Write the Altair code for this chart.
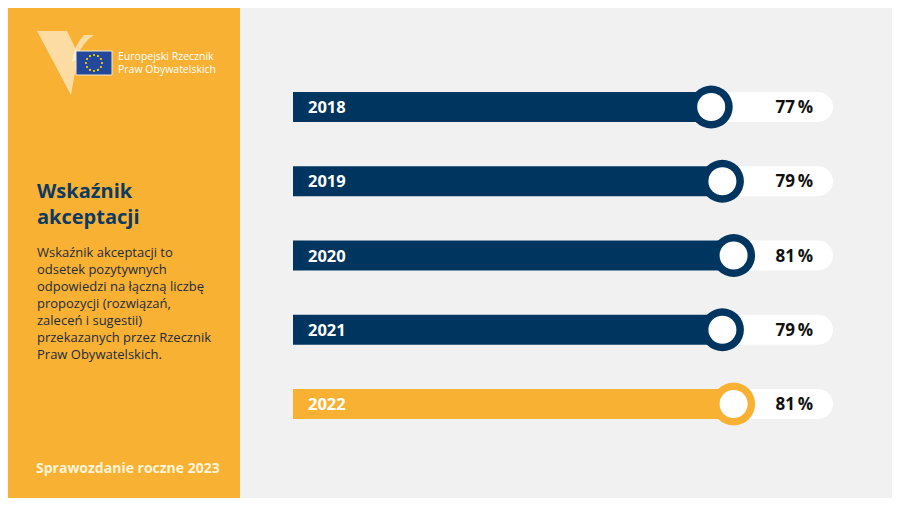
import altair as alt
import pandas as pd

# ---- data ----
years = ["2018", "2019", "2020", "2021", "2022"]
values = [77, 79, 81, 79, 81]
groups = ["past", "past", "past", "past", "current"]

title_lines = ["Wskaźnik", "akceptacji"]
desc_lines = [
    "Wskaźnik akceptacji to",
    "odsetek pozytywnych",
    "odpowiedzi na łączną liczbę",
    "propozycji (rozwiązań,",
    "zaleceń i sugestii)",
    "przekazanych przez Rzecznik",
    "Praw Obywatelskich.",
]
logo_lines = ["Europejski Rzecznik", "Praw Obywatelskich"]
footer_text = ["Sprawozdanie roczne 2023"]

# ---- style ----
NAVY = "#00355F"
ORANGE = "#F8B133"
BG = "#F1F1F1"
FONT = "Open Sans"

df = pd.DataFrame({"year": years, "value": values, "grp": groups})
df["label"] = [f"{v}\u2009%" for v in values]

xs = alt.Scale(domain=[0, 100], range=[272, 832])
ys = alt.Scale(type="point", domain=years, range=[99, 396], padding=0)
X = alt.X("value:Q", scale=xs, axis=None)
Y = alt.Y("year:N", scale=ys, axis=None)
COL = alt.Color("grp:N", scale=alt.Scale(domain=["past", "current"], range=[NAVY, ORANGE]), legend=None)

base = alt.Chart(df)

track = base.mark_rule(strokeWidth=30, strokeCap="round", color="white").encode(
    y=Y, x=alt.value(300), x2=alt.value(810)
)
bar = base.mark_rule(strokeWidth=30, strokeCap="butt").encode(
    y=Y, x=X, x2=alt.value(285), color=COL
)
outer = base.mark_point(filled=True, size=1849, opacity=1, shape="circle").encode(
    x=X, y=Y, color=COL
)
inner = base.mark_point(filled=True, size=784, opacity=1, shape="circle", color="white").encode(
    x=X, y=Y
)
year_txt = base.mark_text(align="left", baseline="middle", font=FONT, fontSize=16.5,
                          fontWeight="bold", color="white", dy=1).encode(
    x=alt.value(300), y=Y, text="year:N"
)
pct_txt = base.mark_text(align="right", baseline="middle", font=FONT, fontSize=17,
                         fontWeight="bold", color="#111111", dy=1).encode(
    x=alt.value(805), y=Y, text="label:N"
)

# ---- left panel ----
one = pd.DataFrame({"k": [0]})
panel = alt.Chart(one).mark_rect(color=ORANGE).encode(
    x=alt.value(0), x2=alt.value(232), y=alt.value(0), y2=alt.value(490)
)

logo_left = alt.Chart(one).mark_point(
    filled=True, size=4, opacity=0.55, color="white",
    shape="M29,23 L59,23 L71,48 L66,70 L63,87 Z",
).encode(x=alt.value(0), y=alt.value(0))
logo_right = alt.Chart(one).mark_point(
    filled=True, size=4, opacity=0.55, color="white",
    shape="M76,27 L86,27 Q74,34 68,52 L64,54 Q66,37 76,27 Z",
).encode(x=alt.value(0), y=alt.value(0))

flag = alt.Chart(one).mark_rect(color="#23479B", stroke="#F3E9D0", strokeWidth=1).encode(
    x=alt.value(68), x2=alt.value(104), y=alt.value(43), y2=alt.value(67)
)
stars_df = pd.DataFrame({"i": list(range(12))})
stars = alt.Chart(stars_df).transform_calculate(
    sx="86 + 8*cos(datum.i*PI/6)", sy="55 + 8*sin(datum.i*PI/6)"
).mark_point(filled=True, shape="circle", size=5, opacity=1, color="#FFD700").encode(
    x=alt.X("sx:Q", scale=None), y=alt.Y("sy:Q", scale=None)
)

logo_df = pd.DataFrame({"t": logo_lines, "i": [0, 1]})
logo_txt = alt.Chart(logo_df).transform_calculate(py="49 + 13*datum.i").mark_text(
    align="left", baseline="middle", font=FONT, fontSize=10.5, color="white"
).encode(x=alt.value(110), y=alt.Y("py:Q", scale=None), text="t:N")

title_df = pd.DataFrame({"t": title_lines, "i": [0, 1]})
title_txt = alt.Chart(title_df).transform_calculate(py="184 + 26*datum.i").mark_text(
    align="left", baseline="middle", font=FONT, fontSize=20, fontWeight="bold", color="#0B3A63"
).encode(x=alt.value(29), y=alt.Y("py:Q", scale=None), text="t:N")

desc_df = pd.DataFrame({"t": desc_lines, "i": list(range(len(desc_lines)))})
desc_txt = alt.Chart(desc_df).transform_calculate(py="245 + 17*datum.i").mark_text(
    align="left", baseline="middle", font=FONT, fontSize=13, color="#1F2C3B"
).encode(x=alt.value(29), y=alt.Y("py:Q", scale=None), text="t:N")

footer_df = pd.DataFrame({"t": footer_text})
footer_txt = alt.Chart(footer_df).mark_text(
    align="left", baseline="middle", font=FONT, fontSize=14, fontWeight="bold", color="#FFF4D8"
).encode(x=alt.value(28), y=alt.value(461), text="t:N")

chart = alt.layer(
    panel, logo_left, logo_right, flag, stars, logo_txt, title_txt, desc_txt, footer_txt,
    track, bar, outer, inner, year_txt, pct_txt
).properties(
    width=884, height=490, background=BG, padding=0,
    autosize=alt.AutoSizeParams(type="none"),
).configure_view(strokeWidth=0)

chart.save("out.html", embed_options={"renderer": "svg", "actions": False})
